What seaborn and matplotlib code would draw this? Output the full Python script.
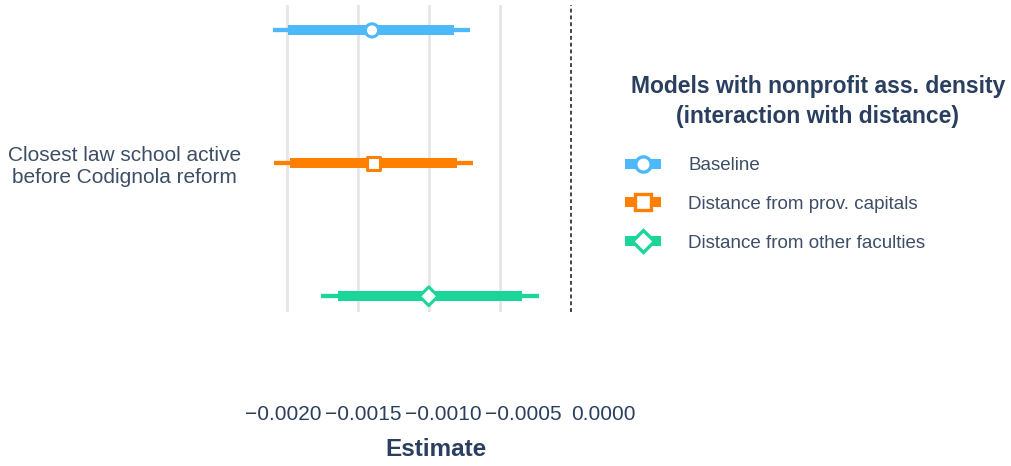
import numpy as np
import pandas as pd
import matplotlib
matplotlib.use("Agg")
import matplotlib.pyplot as plt
from matplotlib.lines import Line2D
import seaborn as sns

# ---- data -------------------------------------------------------------
term = "Closest law school active\nbefore Codignola reform"
models = ["Baseline", "Distance from prov. capitals", "Distance from other faculties"]
estimate = [-0.00140, -0.00139, -0.00100]
ci90_low = [-0.00199, -0.00198, -0.00164]
ci90_high = [-0.00082, -0.00080, -0.00034]
ci95_low = [-0.00210, -0.00209, -0.00176]
ci95_high = [-0.00071, -0.00069, -0.00022]
x_ticks = [-0.0020, -0.0015, -0.0010, -0.0005, 0.0000]
x_tick_labels = ["\u22120.0020", "\u22120.0015", "\u22120.0010", "\u22120.0005", "0.0000"]
legend_title = "Models with nonprofit ass. density\n(interaction with distance)"

# ---- style ------------------------------------------------------------
colors = ["#4DB8FA", "#FF7F00", "#1CD598"]
markers = ["o", "s", "D"]
text_color = "#2a3f5f"
label_color = "#3d4e66"

sns.set_theme(style="white")
plt.rcParams["font.family"] = ["Liberation Sans", "DejaVu Sans"]

df = pd.DataFrame({
    "model": models,
    "estimate": estimate,
    "lo90": ci90_low, "hi90": ci90_high,
    "lo95": ci95_low, "hi95": ci95_high,
})
# dodge the three models around the single term
df["pos"] = np.arange(len(df)) - (len(df) - 1) / 2

fig, ax = plt.subplots(figsize=(10.11, 4.66), dpi=100)
fig.subplots_adjust(left=0.262, right=0.603, bottom=0.330, top=0.989)

ax.set_xticks(x_ticks[:-1])
ax.xaxis.grid(True, color="#e6e6e6", linewidth=2)
ax.yaxis.grid(False)
ax.set_axisbelow(True)
ax.axvline(0, color="#444444", linewidth=1.4, linestyle=(0, (2, 1.5)), zorder=1)

# confidence intervals: 95% thin, 90% thick
for c, (_, r) in zip(colors, df.iterrows()):
    ax.hlines(r["pos"], r["lo95"], r["hi95"], color=c, linewidth=3.1,
              capstyle="butt", zorder=2)
    ax.hlines(r["pos"], r["lo90"], r["hi90"], color=c, linewidth=7.2,
              capstyle="butt", zorder=3)

sns.scatterplot(data=df, x="estimate", y="pos", hue="model", style="model",
                palette=dict(zip(models, colors)),
                markers=dict(zip(models, markers)),
                s=90, legend=False, ax=ax, zorder=4)
pts = ax.collections[-1]
pts.set_edgecolors(pts.get_facecolors())
pts.set_facecolors("white")
pts.set_linewidth(2.2)

ax.set_xlim(-0.002155, 0.000275)
ax.set_ylim(1.12, -1.19)
ax.tick_params(axis="x", length=0, labelbottom=False)
ax.set_yticks([0])
ax.set_yticklabels([term], fontsize=15, color=label_color)
for t in ax.get_yticklabels():
    t.set_multialignment("center")
ax.tick_params(axis="y", length=0, pad=17)
for s in ax.spines.values():
    s.set_visible(False)

ax.set_xlabel("Estimate", fontsize=17.5, fontweight="bold", color=text_color)
ax.set_ylabel("")
ax.xaxis.set_label_coords(0.496, -0.41)

# tick labels on a separate axis set below the panel
label_scale, label_shift = 1.13, 0.000232
secax = ax.secondary_xaxis(
    -0.302,
    functions=(lambda x: (x - label_shift) / label_scale,
               lambda v: v * label_scale + label_shift))
secax.set_xticks(x_ticks, x_tick_labels)
secax.tick_params(length=0, pad=0, labelsize=15, labelcolor=text_color)
for s in secax.spines.values():
    s.set_visible(False)

# legend
fig.text(818 / 1011, 1 - 75 / 466, legend_title, ha="center", va="top",
         fontsize=16.5, fontweight="bold", color=text_color,
         multialignment="center", linespacing=1.4)
handles = [Line2D([], [], color=c, linewidth=7.2, solid_capstyle="butt",
                  marker=m, markersize=11, markerfacecolor="white",
                  markeredgecolor=c, markeredgewidth=2.4)
           for c, m in zip(colors, markers)]
leg = ax.legend(handles, models, loc="upper left",
                bbox_to_anchor=(625 / 1011, 1 - 157 / 466),
                bbox_transform=fig.transFigure, frameon=False,
                fontsize=13.5, handlelength=1.93, handletextpad=1.44,
                labelspacing=1.16, borderpad=0, borderaxespad=0)
for t in leg.get_texts():
    t.set_color(label_color)

fig.savefig("out.png", dpi=100, facecolor="white")
